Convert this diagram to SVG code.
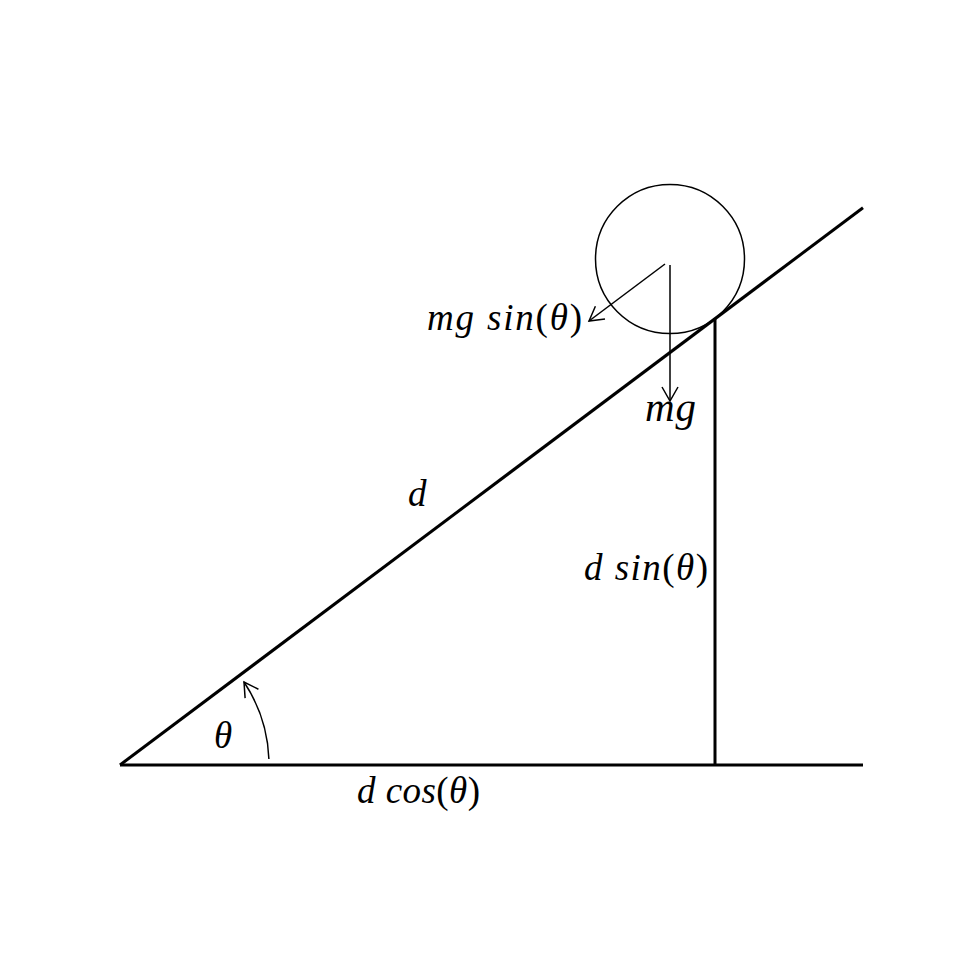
<svg xmlns="http://www.w3.org/2000/svg" width="960" height="960" viewBox="0 0 960 960">
<style>
.thick{stroke:#000;stroke-width:3;fill:none;stroke-linecap:butt}
.thin{stroke:#000;stroke-width:1.5;fill:none}
.lbl{font-family:"Liberation Serif","DejaVu Serif",serif;font-style:italic;font-size:37px;fill:#000}
.up{font-style:normal}
</style>
<defs>
<marker id="ah" viewBox="-16 -10 18 20" markerWidth="18" markerHeight="20" refX="0" refY="0" orient="auto" markerUnits="userSpaceOnUse">
<polyline points="-14,-8 0,0 -14,8" fill="none" stroke="#000" stroke-width="1.5"/>
</marker>
</defs>
<rect width="960" height="960" fill="#fff"/>
<g id="incline">
<line class="thick" x1="120" y1="765" x2="863" y2="207.75"/>
<line class="thick" x1="120" y1="765" x2="863" y2="765"/>
<line class="thick" x1="715" y1="318.75" x2="715" y2="765"/>
</g>
<g id="ball">
<circle class="thin" cx="670" cy="259" r="74.5"/>
</g>
<g id="connectors">
<line class="thin" x1="670" y1="265" x2="670" y2="401" marker-end="url(#ah)"/>
<line class="thin" x1="665" y1="264" x2="589" y2="321" marker-end="url(#ah)"/>
<path class="thin" d="M 268.9 759 A 149 149 0 0 0 244 682" marker-end="url(#ah)"/>
</g>
<g id="labels">
<text class="lbl" x="427" y="330" textLength="155" lengthAdjust="spacing">mg sin<tspan class="up">(</tspan>θ<tspan class="up">)</tspan></text>
<text class="lbl" x="645" y="421" style="font-size:41px" textLength="51" lengthAdjust="spacing">mg</text>
<text class="lbl" x="408" y="506">d</text>
<text class="lbl" x="584" y="580" textLength="124" lengthAdjust="spacing">d sin<tspan class="up">(</tspan>θ<tspan class="up">)</tspan></text>
<text class="lbl" x="214" y="748">θ</text>
<text class="lbl" x="357" y="803" textLength="123" lengthAdjust="spacing">d cos<tspan class="up">(</tspan>θ<tspan class="up">)</tspan></text>
</g>
</svg>
